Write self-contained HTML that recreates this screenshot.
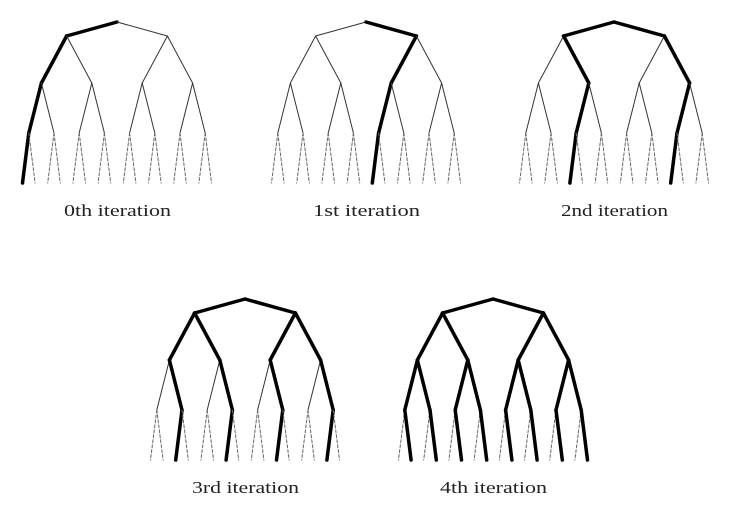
<!DOCTYPE html>
<html><head><meta charset="utf-8"><style>
html,body{margin:0;padding:0;background:#fff;}
svg{display:block;}
text{font-family:"Liberation Serif",serif;font-size:17px;fill:#222;}
</style></head><body>
<svg id="c" width="743" height="516" viewBox="0 0 743 516"></svg>
<script>
// per-iteration tree placement (root x, root y) and labels
const labels = ["0th iteration","1st iteration","2nd iteration","3rd iteration","4th iteration"];
const rootXs = [117, 366, 614, 245, 493];
const rootYs = [22, 22, 22, 299, 299];
const labelYs = [216, 216, 216, 493, 493];
// bold edges per iteration as "level:index" of child node (parent implied)
const boldEdges = [
  ["1:0","2:0","3:0","4:0"],
  ["1:1","2:2","3:4","4:8"],
  ["1:0","1:1","2:1","3:2","4:4","2:3","3:6","4:12"],
  ["1:0","1:1","2:0","2:1","2:2","2:3","3:1","4:2","3:3","4:6","3:5","4:10","3:7","4:14"],
  ["1:0","1:1","2:0","2:1","2:2","2:3","3:0","3:1","3:2","3:3","3:4","3:5","3:6","3:7",
   "4:1","4:3","4:5","4:7","4:9","4:11","4:13","4:15"]
];
const levelDy = [0, 14, 61, 111, 161];
const step = 12.6;
const NS = "http://www.w3.org/2000/svg";
const svg = document.getElementById("c");
function nodeX(rx, lvl, i){
  const n = Math.pow(2,lvl), span = 16 / n;
  const left = rx - 7.5*step;
  return left + (i*span + (span-1)/2)*step;
}
labels.forEach((lab, t) => {
  const g = document.createElementNS(NS,"g");
  
  
  svg.appendChild(g);
  const rx = rootXs[t], ry = rootYs[t];
  const bold = new Set(boldEdges[t]);
  for (let lvl = 1; lvl <= 4; lvl++) {
    const n = Math.pow(2,lvl);
    for (let i = 0; i < n; i++) {
      const p = Math.floor(i/2);
      const l = document.createElementNS(NS,"line");
      l.setAttribute("x1", nodeX(rx,lvl-1,p));
      l.setAttribute("y1", ry + levelDy[lvl-1]);
      l.setAttribute("x2", nodeX(rx,lvl,i));
      l.setAttribute("y2", ry + levelDy[lvl]);
      const isBold = bold.has(lvl+":"+i);
      l.setAttribute("stroke", isBold ? "#000" : (lvl===4 ? "#666" : "#333"));
      l.setAttribute("stroke-width", isBold ? 3.5 : 1);
      l.setAttribute("stroke-linecap","round");
      if (lvl === 4 && !isBold) l.setAttribute("stroke-dasharray","3 2");
      
      
      g.appendChild(l);
    }
  }
  const tx = document.createElementNS(NS,"text");
  tx.setAttribute("x", rx - 53);
  tx.setAttribute("y", labelYs[t]);
  tx.setAttribute("textLength", 107);
  tx.setAttribute("lengthAdjust", "spacingAndGlyphs");
  tx.textContent = lab;
  
  
  svg.appendChild(tx);
});
</script>
</body></html>
